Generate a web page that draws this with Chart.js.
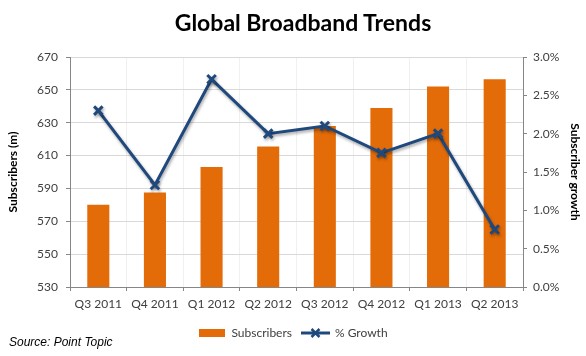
<!DOCTYPE html>
<html><head><meta charset="utf-8">
<script src="https://cdn.jsdelivr.net/npm/chart.js@4"></script>
<style>
html,body{margin:0;padding:0;background:#fff;}
#wrap{position:relative;width:586px;height:356px;}
#title{position:absolute;left:0;width:606px;top:8px;text-align:center;font:bold 23px Lato,"Open Sans",sans-serif;color:#000;line-height:28px;}
#source{position:absolute;left:9px;top:335px;font:italic 12px "Liberation Sans",Arial,sans-serif;color:#000;}
</style>
</head><body>
<div id="wrap"><canvas id="c" width="586" height="356"></canvas>
<div id="title">Global Broadband Trends</div>
<div id="source">Source: Point Topic</div></div>
<script>
const categories = ["Q3 2011","Q4 2011","Q1 2012","Q2 2012","Q3 2012","Q4 2012","Q1 2013","Q2 2013"];
const subscribers = [580, 587.5, 603, 615.5, 628, 639, 652, 656.5];
const growth = [2.30, 1.33, 2.71, 2.00, 2.10, 1.75, 2.00, 0.75];
const leftTicks = {min: 530, max: 670, step: 20};
const rightTicks = {min: 0, max: 3, step: 0.5};

const ORANGE = '#E36C09';
const BLUE = '#1F497D';
const FONT = 'Lato, "Open Sans", sans-serif';

function makeIcon(kind){
  const c = document.createElement('canvas');
  if (kind === 'bar'){
    c.width = 26; c.height = 10;
    const g = c.getContext('2d');
    g.fillStyle = ORANGE; g.fillRect(0, 1, 26, 8);
  } else {
    c.width = 29; c.height = 12;
    const g = c.getContext('2d');
    g.strokeStyle = BLUE; g.lineWidth = 3;
    g.beginPath(); g.moveTo(0, 6); g.lineTo(29, 6); g.stroke();
    g.lineWidth = 2.5;
    g.beginPath(); g.moveTo(10.5, 2); g.lineTo(18.5, 10); g.moveTo(18.5, 2); g.lineTo(10.5, 10); g.stroke();
  }
  return c;
}
const barIcon = makeIcon('bar');
const lineIcon = makeIcon('line');

const shadowPlugin = {
  id: 'lineShadow',
  beforeDatasetDraw(chart, args){
    if (args.index === 1){
      const ctx = chart.ctx; ctx.save();
      ctx.shadowColor = 'rgba(0,0,0,0.35)'; ctx.shadowBlur = 3; ctx.shadowOffsetX = 1; ctx.shadowOffsetY = 2;
    }
  },
  afterDatasetDraw(chart, args){
    if (args.index === 1){ chart.ctx.restore(); }
  }
};

new Chart(document.getElementById('c'), {
  data: {
    labels: categories,
    datasets: [
      {type: 'bar', label: 'Subscribers', data: subscribers, backgroundColor: ORANGE, yAxisID: 'y', order: 2,
       categoryPercentage: 1, barPercentage: 0.39},
      {type: 'line', label: '% Growth', data: growth, borderColor: BLUE, backgroundColor: BLUE, borderWidth: 3,
       pointStyle: 'crossRot', pointRadius: 6, pointBorderWidth: 3, pointBorderColor: BLUE, yAxisID: 'y1', order: 1, tension: 0}
    ]
  },
  options: {
    responsive: false, animation: false,
    layout: {padding: {left: 0, right: 0, top: 57, bottom: 7}},
    plugins: {
      title: {display: false},
      legend: {position: 'bottom', labels: {
        usePointStyle: true, pointStyleWidth: 27, color: '#404040', font: {family: FONT, size: 12}, padding: 10,
        sort: (a, b) => a.datasetIndex - b.datasetIndex,
        generateLabels(chart){
          const items = Chart.defaults.plugins.legend.labels.generateLabels(chart);
          items.forEach(it => { it.pointStyle = it.datasetIndex === 0 ? barIcon : lineIcon; });
          return items;
        }
      }},
      tooltip: {enabled: false}
    },
    scales: {
      x: {
        offset: true,
        grid: {offset: true, color: '#F0F0F0', tickColor: '#868686', tickLength: 4, drawOnChartArea: true},
        border: {color: '#868686'},
        ticks: {color: '#404040', font: {family: FONT, size: 12}, padding: 6, maxRotation: 0},
        afterFit(s){ s.height = 30; }
      },
      y: {
        position: 'left', min: leftTicks.min, max: leftTicks.max,
        ticks: {stepSize: leftTicks.step, color: '#404040', font: {family: FONT, size: 12}, padding: 8},
        grid: {color: '#D9D9D9', tickColor: '#868686', tickLength: 4},
        border: {color: '#868686'},
        title: {display: true, text: 'Subscribers (m)', color: '#000', font: {family: FONT, size: 12, weight: 'bold'}, padding: {top: 6, bottom: 0}},
        afterFit(s){ s.width = 70; }
      },
      y1: {
        position: 'right', min: rightTicks.min, max: rightTicks.max,
        ticks: {stepSize: rightTicks.step, color: '#404040', font: {family: FONT, size: 12}, padding: 6,
          callback: v => v.toFixed(1) + '%'},
        grid: {drawOnChartArea: false, color: '#868686', tickLength: 4},
        border: {color: '#868686'},
        title: {display: true, text: 'Subscriber growth', color: '#000', font: {family: FONT, size: 12, weight: 'bold'}, padding: {top: 4, bottom: 0}},
        afterFit(s){ s.width = 63; }
      }
    }
  },
  plugins: [shadowPlugin]
});
</script>
</body></html>
